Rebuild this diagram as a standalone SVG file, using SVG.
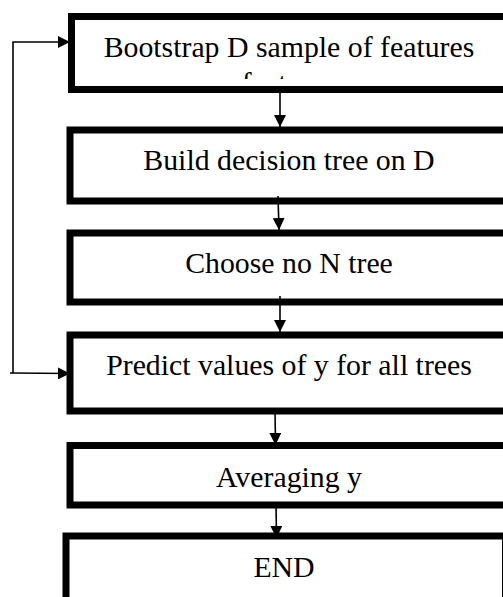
<svg xmlns="http://www.w3.org/2000/svg" width="503" height="597" viewBox="0 0 503 597">
  <style>
    .box { fill: #ffffff; stroke: #000000; stroke-width: 7; }
    .lbl { font-family: "Liberation Serif", "Times New Roman", serif; font-size: 29.8px; fill: #000000; text-anchor: middle; }
    .con { fill: none; stroke: #000000; stroke-width: 1.6; }
  </style>
  <defs>
    <marker id="ah" viewBox="0 0 12 12" refX="12" refY="6" markerWidth="12" markerHeight="12" markerUnits="userSpaceOnUse" orient="auto">
      <path d="M0,0 L12,6 L0,12 Z" fill="#000000"/>
    </marker>
    <clipPath id="clip1">
      <rect x="76" y="20" width="440" height="59"/>
    </clipPath>
  </defs>
  <rect x="0" y="0" width="503" height="597" fill="#ffffff"/>

  <g id="node-bootstrap">
    <rect class="box" x="71.5" y="16.5" width="440" height="73"/>
    <g clip-path="url(#clip1)">
      <text class="lbl" x="289" y="57">Bootstrap D sample of features</text>
      <text class="lbl" x="289" y="93">features</text>
    </g>
  </g>

  <g id="node-build">
    <rect class="box" x="70" y="130" width="440" height="71"/>
    <text class="lbl" x="289" y="170">Build decision tree on D</text>
  </g>

  <g id="node-choose">
    <rect class="box" x="70" y="233" width="440" height="69"/>
    <text class="lbl" x="289" y="273">Choose no N tree</text>
  </g>

  <g id="node-predict">
    <rect class="box" x="70" y="335" width="440" height="76"/>
    <text class="lbl" x="289" y="375">Predict values of y for all trees</text>
  </g>

  <g id="node-averaging">
    <rect class="box" x="70" y="445.5" width="440" height="59.5"/>
    <text class="lbl" x="289" y="487">Averaging y</text>
  </g>

  <g id="node-end">
    <rect class="box" x="66" y="536" width="439.5" height="80"/>
    <text class="lbl" x="284" y="577">END</text>
  </g>

  <g id="connectors">
    <line class="con" x1="280" y1="93" x2="280" y2="127" marker-end="url(#ah)"/>
    <line class="con" x1="278" y1="196" x2="279" y2="230" marker-end="url(#ah)"/>
    <line class="con" x1="280" y1="296" x2="280" y2="332" marker-end="url(#ah)"/>
    <line class="con" x1="275" y1="410" x2="275.5" y2="445" marker-end="url(#ah)"/>
    <line class="con" x1="276" y1="502" x2="276.5" y2="538" marker-end="url(#ah)"/>
    <polyline class="con" points="13,373 13,42 70,42" marker-end="url(#ah)"/>
    <line class="con" x1="10" y1="373" x2="70" y2="373.5" marker-end="url(#ah)"/>
  </g>
</svg>
